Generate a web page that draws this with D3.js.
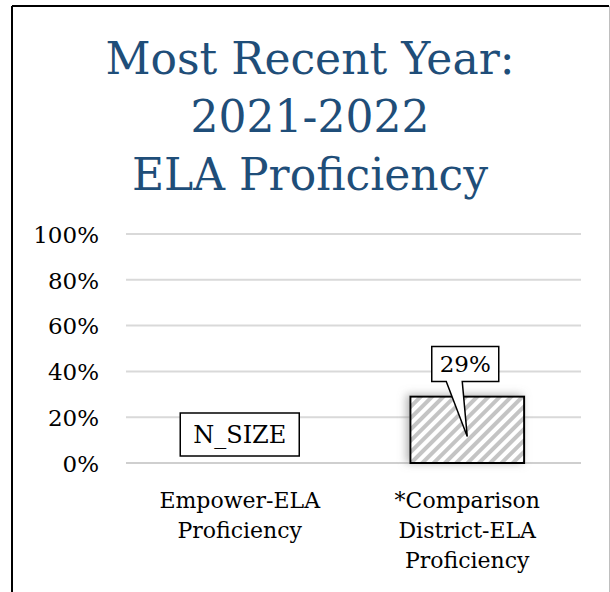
<!DOCTYPE html>
<html>
<head>
<meta charset="utf-8">
<script src="https://cdn.jsdelivr.net/npm/d3@7"></script>
<style>
  body { margin: 0; background: #fff; }
  svg { display: block; }
</style>
</head>
<body>
<script>
const titleLines = ["Most Recent Year:", "2021-2022", "ELA Proficiency"];
const categories = [
  ["Empower-ELA", "Proficiency"],
  ["*Comparison", "District-ELA", "Proficiency"]
];
const values = [null, 29];
const labels = ["N_SIZE", "29%"];
const yTicks = [0, 20, 40, 60, 80, 100];

const W = 610, H = 592;
const font = "'DejaVu Serif', serif";
const plot = { left: 126, right: 581, top: 234, bottom: 463 };

const svg = d3.select("body").append("svg")
  .attr("width", W)
  .attr("height", H);

const defs = svg.append("defs");

const pat = defs.append("pattern")
  .attr("id", "hatch")
  .attr("patternUnits", "userSpaceOnUse")
  .attr("width", 8)
  .attr("height", 8)
  .attr("patternTransform", "rotate(45)");
pat.append("rect").attr("width", 8).attr("height", 8).attr("fill", "#fff");
pat.append("rect").attr("x", 0).attr("width", 4).attr("height", 8).attr("fill", "#c4c4c4");

const shadow = defs.append("filter")
  .attr("id", "glow")
  .attr("x", "-30%").attr("y", "-30%")
  .attr("width", "160%").attr("height", "160%");
shadow.append("feDropShadow")
  .attr("dx", -3).attr("dy", -1)
  .attr("stdDeviation", 4)
  .attr("flood-color", "#808080")
  .attr("flood-opacity", 0.6);

// frame
svg.append("line").attr("x1", 12).attr("x2", 609).attr("y1", 6).attr("y2", 6)
  .attr("stroke", "#000").attr("stroke-width", 2);
svg.append("line").attr("x1", 12).attr("x2", 12).attr("y1", 6).attr("y2", H)
  .attr("stroke", "#000").attr("stroke-width", 2);
svg.append("line").attr("x1", 609.5).attr("x2", 609.5).attr("y1", 6).attr("y2", H)
  .attr("stroke", "#bfbfbf").attr("stroke-width", 1);

// title
svg.append("text")
  .attr("text-anchor", "middle")
  .attr("font-family", font)
  .attr("font-size", 44)
  .attr("fill", "#1f4e79")
  .selectAll("tspan")
  .data(titleLines)
  .join("tspan")
  .attr("x", 310)
  .attr("y", (d, i) => 74 + i * 58)
  .text(d => d);

const y = d3.scaleLinear().domain([0, 100]).range([plot.bottom, plot.top]);
const x = d3.scaleBand()
  .domain(d3.range(categories.length))
  .range([plot.left, plot.right])
  .paddingInner(0.5)
  .paddingOuter(0.25);

// gridlines
svg.append("g")
  .selectAll("line")
  .data(yTicks)
  .join("line")
  .attr("x1", plot.left)
  .attr("x2", plot.right)
  .attr("y1", d => y(d))
  .attr("y2", d => y(d))
  .attr("stroke", d => d === 0 ? "#cfcfcf" : "#d9d9d9")
  .attr("stroke-width", 2);

// y axis
const yAxis = svg.append("g")
  .attr("transform", `translate(${plot.left - 20},0)`)
  .call(d3.axisLeft(y).tickValues(yTicks).tickFormat(d => d + "%").tickSize(0).tickPadding(7));
yAxis.select(".domain").remove();
yAxis.selectAll("text")
  .attr("font-family", font)
  .attr("font-size", 23)
  .attr("fill", "#000")
  .attr("dy", "0.36em");

// bars
const barData = values.map((v, i) => ({ v, i })).filter(d => d.v != null);
svg.append("g")
  .selectAll("rect")
  .data(barData)
  .join("rect")
  .attr("x", d => x(d.i))
  .attr("y", d => y(d.v))
  .attr("width", x.bandwidth())
  .attr("height", d => y(0) - y(d.v))
  .attr("fill", "url(#hatch)")
  .attr("stroke", "#000")
  .attr("stroke-width", 2)
  .attr("filter", "url(#glow)");

// data labels
labels.forEach((lab, i) => {
  const cx = x(i) + x.bandwidth() / 2;
  const g = svg.append("g");
  if (values[i] == null) {
    const w = 119, h = 43;
    const by = y(0) - 7 - h;
    g.append("rect")
      .attr("x", cx - w / 2).attr("y", by)
      .attr("width", w).attr("height", h)
      .attr("fill", "#fff").attr("stroke", "#000").attr("stroke-width", 1.5);
    g.append("text")
      .attr("x", cx).attr("y", by + h / 2)
      .attr("dy", "0.36em")
      .attr("text-anchor", "middle")
      .attr("font-family", font).attr("font-size", 24)
      .text(lab);
  } else {
    const w = 67, h = 35;
    const bx = cx - 2 - w / 2;
    const by = y(values[i]) - 15 - h;
    const bb = by + h;
    const tipX = cx, tipY = y(values[i]) + 40;
    const path = d3.path();
    path.moveTo(bx, by);
    path.lineTo(bx + w, by);
    path.lineTo(bx + w, bb);
    path.lineTo(cx - 5, bb);
    path.lineTo(tipX, tipY);
    path.lineTo(cx - 21, bb);
    path.lineTo(bx, bb);
    path.closePath();
    g.append("path")
      .attr("d", path.toString())
      .attr("fill", "#fff").attr("stroke", "#000").attr("stroke-width", 1.5)
      .attr("stroke-linejoin", "miter");
    g.append("text")
      .attr("x", bx + w / 2).attr("y", by + h / 2)
      .attr("dy", "0.36em")
      .attr("text-anchor", "middle")
      .attr("font-family", font).attr("font-size", 23)
      .text(lab);
  }
});

// category labels
svg.append("g")
  .selectAll("text")
  .data(categories)
  .join("text")
  .attr("text-anchor", "middle")
  .attr("font-family", font)
  .attr("font-size", 22)
  .attr("fill", "#000")
  .each(function (d, i) {
    d3.select(this).selectAll("tspan")
      .data(d)
      .join("tspan")
      .attr("x", x(i) + x.bandwidth() / 2)
      .attr("y", (t, j) => 508 + j * 30)
      .text(t => t);
  });
</script>
</body>
</html>
